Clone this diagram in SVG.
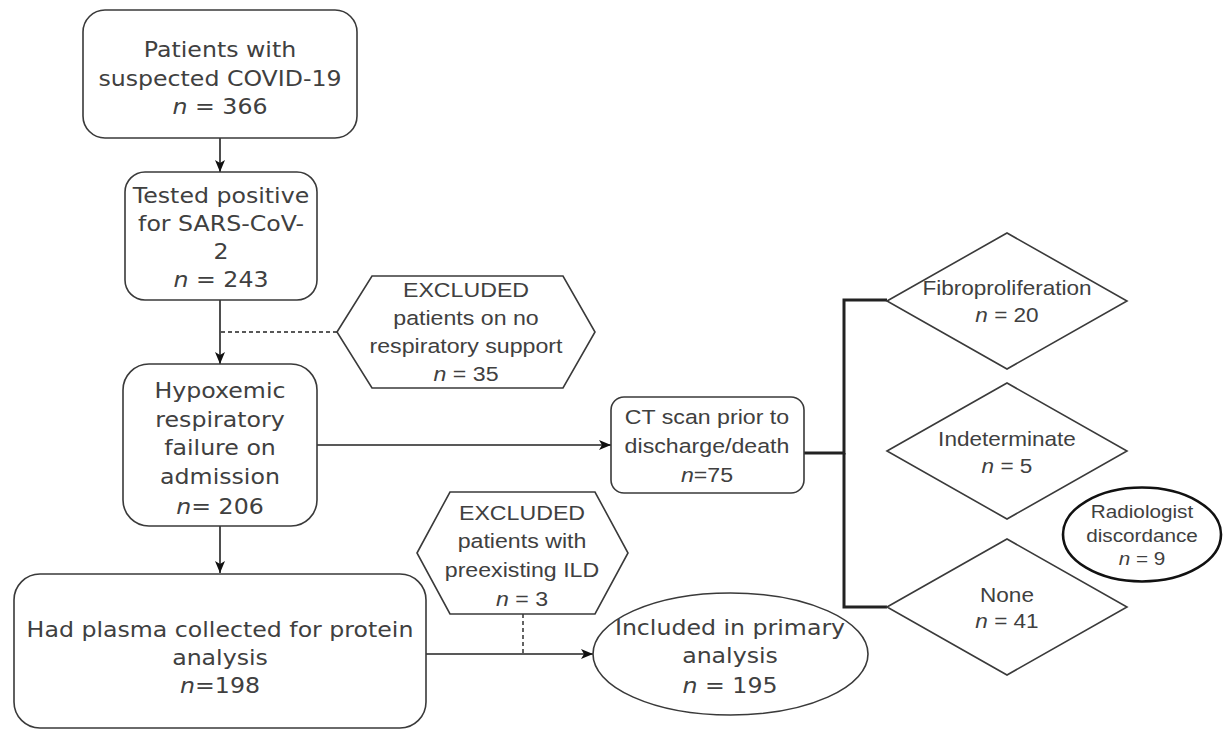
<svg xmlns="http://www.w3.org/2000/svg" width="1225" height="731" viewBox="0 0 1225 731">
<defs>
<marker id="arr" viewBox="0 0 12 12" refX="12" refY="6" markerWidth="12" markerHeight="12" markerUnits="userSpaceOnUse" orient="auto">
<path d="M0,1 L12,6 L0,11 L3,6 Z" fill="#111"/>
</marker>
<style>
.box{fill:#fff;stroke:#3a3a3a;stroke-width:1.6}
.thick{fill:none;stroke:#222;stroke-width:3}
.ln{fill:none;stroke:#222;stroke-width:1.6}
.dash{fill:none;stroke:#222;stroke-width:1.4;stroke-dasharray:4 3}
.v{font-family:"DejaVu Sans",Verdana,sans-serif;font-size:21.5px;fill:#404040;text-anchor:middle}
.a{font-family:"Liberation Sans",Arial,sans-serif;font-size:20.5px;fill:#404040;text-anchor:middle}
.s{font-family:"Liberation Sans",Arial,sans-serif;font-size:18.5px;fill:#404040;text-anchor:middle}
.i{font-style:italic}
</style>
</defs>
<rect width="1225" height="731" fill="#fff"/>
<g id="connectors">
<line class="ln" x1="220" y1="138" x2="220" y2="172" marker-end="url(#arr)"/>
<line class="ln" x1="220" y1="300" x2="220" y2="364" marker-end="url(#arr)"/>
<line class="dash" x1="337" y1="332" x2="220" y2="332"/>
<line class="ln" x1="317" y1="445" x2="611" y2="445" marker-end="url(#arr)"/>
<line class="ln" x1="220" y1="526" x2="220" y2="573" marker-end="url(#arr)"/>
<line class="ln" x1="426" y1="654" x2="593" y2="654" marker-end="url(#arr)"/>
<line class="dash" x1="523" y1="614" x2="523" y2="654"/>
<path class="thick" d="M804 453 H844 V300 H887"/>
<path class="thick" d="M844 453 V607 H887"/>
</g>
<g id="n1">
<rect class="box" x="83" y="10" width="274" height="128" rx="22"/>
<text class="v" transform="translate(220 0) scale(1.1 1)"><tspan x="0" y="57">Patients with</tspan><tspan x="0" y="86">suspected COVID-19</tspan><tspan x="0" y="114"><tspan class="i">n</tspan> = 366</tspan></text>
</g>
<g id="n2">
<rect class="box" x="125" y="172" width="192" height="128" rx="20"/>
<text class="v" transform="translate(221 0) scale(1.1 1)"><tspan x="0" y="203">Tested positive</tspan><tspan x="0" y="231">for SARS-CoV-</tspan><tspan x="0" y="259">2</tspan><tspan x="0" y="287"><tspan class="i">n</tspan> = 243</tspan></text>
</g>
<g id="excl1">
<polygon class="box" points="337,332 372,276 563,276 595,332 563,388 372,388"/>
<text class="a" transform="translate(466 0) scale(1.13 1)"><tspan x="0" y="297">EXCLUDED</tspan><tspan x="0" y="325">patients on no</tspan><tspan x="0" y="353">respiratory support</tspan><tspan x="0" y="381"><tspan class="i">n</tspan> = 35</tspan></text>
</g>
<g id="n3">
<rect class="box" x="123" y="364" width="194" height="162" rx="26"/>
<text class="v" transform="translate(220 0) scale(1.1 1)"><tspan x="0" y="398">Hypoxemic</tspan><tspan x="0" y="427">respiratory</tspan><tspan x="0" y="455">failure on</tspan><tspan x="0" y="484">admission</tspan><tspan x="0" y="514"><tspan class="i">n</tspan>= 206</tspan></text>
</g>
<g id="ct">
<rect class="box" x="611" y="397" width="193" height="96" rx="13"/>
<text class="a" transform="translate(707 0) scale(1.13 1)"><tspan x="0" y="424">CT scan prior to</tspan><tspan x="0" y="453">discharge/death</tspan><tspan x="0" y="482"><tspan class="i">n</tspan>=75</tspan></text>
</g>
<g id="fibro">
<polygon class="box" points="887,301 1007,233 1127,301 1007,369"/>
<text class="a" transform="translate(1007 0) scale(1.1 1)"><tspan x="0" y="295">Fibroproliferation</tspan><tspan x="0" y="322"><tspan class="i">n</tspan> = 20</tspan></text>
</g>
<g id="indet">
<polygon class="box" points="887,451 1007,383 1127,451 1007,519"/>
<text class="a" transform="translate(1007 0) scale(1.1 1)"><tspan x="0" y="446">Indeterminate</tspan><tspan x="0" y="473"><tspan class="i">n</tspan> = 5</tspan></text>
</g>
<g id="none">
<polygon class="box" points="887,607 1007,539 1127,607 1007,675"/>
<text class="a" transform="translate(1007 0) scale(1.1 1)"><tspan x="0" y="602">None</tspan><tspan x="0" y="628"><tspan class="i">n</tspan> = 41</tspan></text>
</g>
<g id="radiologist">
<ellipse cx="1142" cy="534.5" rx="79" ry="47" fill="#fff" stroke="#111" stroke-width="2.6"/>
<text class="s" transform="translate(1142 0) scale(1.12 1)"><tspan x="0" y="518">Radiologist</tspan><tspan x="0" y="542">discordance</tspan><tspan x="0" y="565"><tspan class="i">n</tspan> = 9</tspan></text>
</g>
<g id="n4">
<rect class="box" x="14" y="574" width="412" height="154" rx="26"/>
<text class="v" transform="translate(220 0) scale(1.1 1)"><tspan x="0" y="637">Had plasma collected for protein</tspan><tspan x="0" y="665">analysis</tspan><tspan x="0" y="693"><tspan class="i">n</tspan>=198</tspan></text>
</g>
<g id="excl2">
<polygon class="box" points="417,553 450,492 595,492 628,553 595,614 450,614"/>
<text class="a" transform="translate(522 0) scale(1.13 1)"><tspan x="0" y="520">EXCLUDED</tspan><tspan x="0" y="548">patients with</tspan><tspan x="0" y="577">preexisting ILD</tspan><tspan x="0" y="606"><tspan class="i">n</tspan> = 3</tspan></text>
</g>
<g id="included">
<ellipse class="box" cx="730.5" cy="654" rx="137.5" ry="61"/>
<text class="v" transform="translate(730 0) scale(1.1 1)"><tspan x="0" y="635">Included in primary</tspan><tspan x="0" y="663">analysis</tspan><tspan x="0" y="693"><tspan class="i">n</tspan> = 195</tspan></text>
</g>
</svg>
